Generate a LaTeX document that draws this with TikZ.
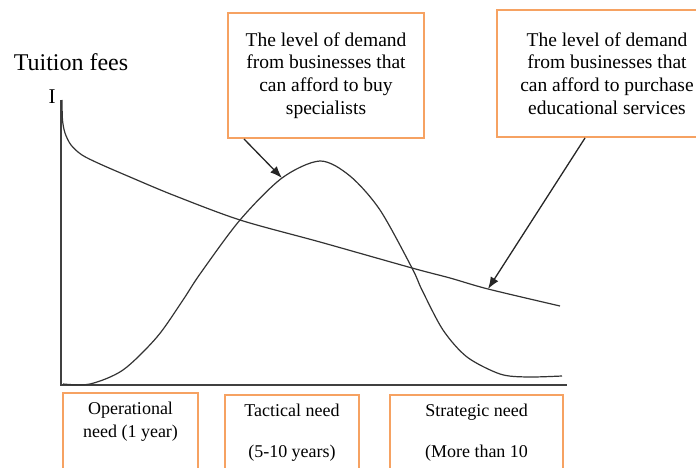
\documentclass[tikz,border=0pt]{standalone}
\usepackage{fontspec}
\setmainfont{Liberation Serif}
\usetikzlibrary{arrows.meta}
\definecolor{boxorange}{RGB}{246,162,98}
\tikzset{>={Latex[length=12pt,width=9pt]}}
\tikzset{
  notebox/.style={draw=boxorange, line width=2pt, align=center, inner sep=0pt,
    font=\fontsize{19.5}{22.6}\selectfont},
  needbox/.style={draw=boxorange, line width=2pt, align=center, anchor=north,
    inner xsep=0pt, inner ysep=9pt, text depth=48pt,
    font=\fontsize{18}{23}\selectfont},
  curve/.style={line width=1.2pt, black!80},
}

\begin{document}
\begin{tikzpicture}[x=1pt,y=-1pt]
  \useasboundingbox (0,0) rectangle (696,468);
  \clip (0,0) rectangle (696,468);
  % axes
  \coordinate (ytop) at (61,100);
  \coordinate (origin) at (61,385);
  \coordinate (xend) at (567,385);
  \draw[line width=1.6pt, black!75] (ytop) -- (origin) -- (xend);
  \node[font=\fontsize{24}{28}\selectfont] (fees) at (71,62) {Tuition fees};
  \node[font=\fontsize{21}{24}\selectfont] (imark) at (52,97) {I};
  % tuition fees curve
  \draw[curve] plot[smooth] coordinates {(62,100) (62.5,120) (65,133) (71,145)
    (82,155) (100,164) (130,177) (173,195) (240,220) (320,242) (412,268)
    (450,278) (488,289) (560,306)};
  % demand curve
  \draw[curve] plot[smooth] coordinates {(63,384) (90,384) (123,370) (157,337)
    (183,300) (200,274) (240,220) (282,178) (320,161) (350,176) (380,210)
    (412,268) (422,290) (443,330) (467,357) (500,374) (527,377) (562,376)};
  \coordinate (onbell) at (282,178);
  \coordinate (onfees) at (488,289);
  % notes
  \node[notebox, minimum width=196pt, minimum height=125pt] (buy) at (326,75.5)
    {The level of demand\\from businesses that\\can afford to buy\\specialists};
  \node[notebox, minimum width=220pt, minimum height=127pt] (purchase) at (607,73.5)
    {The level of demand\\from businesses that\\can afford to purchase\\educational services};
  \draw[->, line width=1.3pt, black!85] ([xshift=17pt]buy.south west) -- (onbell);
  \draw[->, line width=1.3pt, black!85] ([xshift=-22pt]purchase.south) -- (onfees);
  % kinds of need
  \node[needbox, minimum width=135pt] (oper) at (130.5,392)
    {Operational\\need (1 year)};
  \node[needbox, minimum width=134pt] (tact) at (292,394)
    {Tactical need\\[18pt](5-10 years)};
  \node[needbox, minimum width=173pt] (strat) at (476.5,394)
    {Strategic need\\[18pt](More than 10};
\end{tikzpicture}
\end{document}
